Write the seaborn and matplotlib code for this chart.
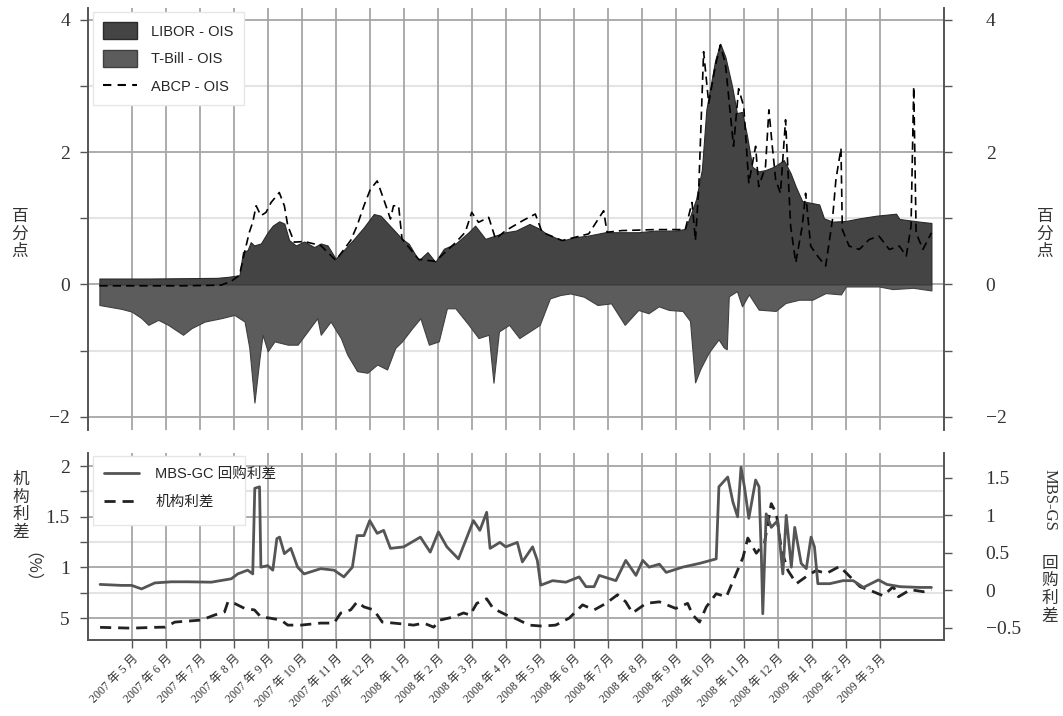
import matplotlib
matplotlib.use("Agg")
import matplotlib.pyplot as plt
import numpy as np
import seaborn as sns
from matplotlib.lines import Line2D
from matplotlib.patches import Patch, Rectangle
from matplotlib.ticker import MultipleLocator

sns.set_theme(style="ticks")
plt.rcParams["font.family"] = ["Liberation Serif", "Noto Sans CJK SC", "DejaVu Sans"]
plt.rcParams["axes.unicode_minus"] = True

# x is months after 2007-05-01 (tick 0 = 2007 年 5 月)
month_labels = [
    "2007 年 5 月", "2007 年 6 月", "2007 年 7 月", "2007 年 8 月", "2007 年 9 月",
    "2007 年 10 月", "2007 年 11 月", "2007 年 12 月", "2008 年 1 月", "2008 年 2 月",
    "2008 年 3 月", "2008 年 4 月", "2008 年 5 月", "2008 年 6 月", "2008 年 7 月",
    "2008 年 8 月", "2008 年 9 月", "2008 年 10 月", "2008 年 11 月", "2008 年 12 月",
    "2009 年 1 月", "2009 年 2 月", "2009 年 3 月",
]

libor_t = [-0.95, -0.3, 0.5, 1.5, 2.5, 2.83, 3.17, 3.27, 3.41, 3.5, 3.6, 3.8, 4.0, 4.15,
           4.34, 4.49, 4.63, 4.83, 5.07, 5.37, 5.56, 5.76, 6.0, 6.24, 6.54, 6.83, 7.12,
           7.32, 7.61, 7.95, 8.15, 8.44, 8.7, 8.93, 9.18, 9.52, 9.91, 10.1, 10.4, 10.7,
           11.0, 11.3, 11.7, 12.0, 12.2, 12.66, 13.05, 13.44, 13.93, 14.42, 14.9, 15.4,
           16.0, 16.28, 16.43, 16.6, 16.77, 16.9, 17.16, 17.31, 17.46, 17.66, 17.8,
           17.95, 18.1, 18.25, 18.44, 18.64, 18.89, 19.18, 19.38, 19.53, 19.72, 20.02,
           20.22, 20.36, 20.61, 21.0, 21.4, 21.9, 22.48, 22.58, 23.17, 23.52]
libor_v = [0.09, 0.09, 0.09, 0.095, 0.10, 0.115, 0.14, 0.49, 0.52, 0.64, 0.59, 0.62, 0.79,
           0.89, 0.955, 0.92, 0.67, 0.59, 0.65, 0.565, 0.62, 0.59, 0.39, 0.52, 0.69, 0.865,
           1.065, 1.04, 0.88, 0.69, 0.615, 0.365, 0.49, 0.34, 0.54, 0.615, 0.79, 0.89,
           0.69, 0.74, 0.79, 0.815, 0.915, 0.84, 0.765, 0.665, 0.715, 0.74, 0.79, 0.79,
           0.79, 0.815, 0.815, 0.84, 1.04, 1.29, 1.74, 2.64, 3.39, 3.64, 3.44, 2.99, 2.59,
           2.61, 2.24, 1.78, 1.71, 1.73, 1.78, 1.88, 1.68, 1.48, 1.26, 1.23, 1.21, 1.0,
           0.95, 0.96, 1.0, 1.04, 1.07, 0.99, 0.95, 0.93]

tbill_t = [-0.95, -0.29, 0.0, 0.29, 0.49, 0.78, 1.07, 1.51, 1.76, 2.15, 2.63, 3.02, 3.32,
           3.46, 3.61, 3.76, 3.85, 4.0, 4.2, 4.59, 4.88, 5.17, 5.46, 5.56, 5.85, 6.15,
           6.34, 6.63, 6.93, 7.22, 7.51, 7.75, 7.95, 8.25, 8.49, 8.74, 9.03, 9.27, 9.52,
           9.91, 10.2, 10.5, 10.64, 10.8, 11.1, 11.4, 11.7, 12.0, 12.3, 12.6, 12.9, 13.3,
           13.7, 14.1, 14.5, 14.9, 15.2, 15.5, 15.8, 16.2, 16.42, 16.57, 16.72, 16.97,
           17.26, 17.41, 17.5, 17.56, 17.8, 17.95, 18.15, 18.44, 18.94, 19.23, 19.63,
           20.02, 20.41, 20.86, 21.0, 21.4, 21.98, 22.38, 22.98, 23.52]
tbill_v = [-0.31, -0.37, -0.41, -0.51, -0.61, -0.535, -0.61, -0.76, -0.66, -0.56, -0.51,
           -0.46, -0.56, -0.96, -1.785, -1.11, -0.76, -1.01, -0.86, -0.91, -0.91, -0.71,
           -0.51, -0.76, -0.56, -0.81, -1.06, -1.31, -1.335, -1.21, -1.285, -0.96, -0.86,
           -0.66, -0.51, -0.91, -0.86, -0.36, -0.36, -0.61, -0.81, -0.76, -1.485, -0.71,
           -0.61, -0.81, -0.71, -0.61, -0.21, -0.16, -0.135, -0.185, -0.31, -0.285, -0.61,
           -0.385, -0.435, -0.33, -0.385, -0.40, -0.55, -1.48, -1.28, -1.03, -0.83, -0.95,
           -0.98, -0.18, -0.10, -0.33, -0.15, -0.38, -0.40, -0.28, -0.23, -0.23, -0.13,
           -0.15, -0.03, -0.03, -0.03, -0.07, -0.05, -0.09]

abcp_t = [-0.95, 0.5, 1.5, 2.63, 2.93, 3.17, 3.32, 3.46, 3.56, 3.66, 3.8, 3.95, 4.1, 4.34,
          4.49, 4.59, 4.78, 5.07, 5.56, 6.0, 6.44, 6.63, 6.83, 7.02, 7.22, 7.41, 7.61,
          7.7, 7.85, 7.95, 8.44, 8.93, 9.52, 9.81, 10.0, 10.2, 10.5, 10.7, 11.0, 11.5,
          11.87, 12.07, 12.66, 13.44, 13.88, 13.98, 14.42, 15.4, 16.28, 16.48, 16.58,
          16.68, 16.82, 16.97, 17.16, 17.31, 17.46, 17.7, 17.85, 18.0, 18.15, 18.35,
          18.44, 18.64, 18.74, 18.84, 18.94, 19.08, 19.23, 19.38, 19.53, 19.72, 19.82,
          19.97, 20.17, 20.41, 20.61, 20.71, 20.86, 20.9, 21.1, 21.4, 21.69, 21.98,
          22.28, 22.58, 22.78, 22.92, 23.0, 23.07, 23.27, 23.52]
abcp_v = [-0.02, -0.02, -0.02, -0.01, 0.05, 0.14, 0.49, 0.79, 0.94, 1.19, 1.04, 1.09, 1.24,
          1.39, 1.19, 0.89, 0.64, 0.65, 0.59, 0.365, 0.665, 0.89, 1.19, 1.44, 1.565, 1.29,
          0.99, 1.19, 1.19, 0.69, 0.38, 0.35, 0.63, 0.79, 1.09, 0.94, 1.015, 0.69, 0.815,
          0.965, 1.065, 0.79, 0.665, 0.765, 1.115, 0.79, 0.815, 0.83, 0.83, 1.24, 0.665,
          1.49, 3.52, 2.74, 3.29, 3.62, 3.34, 2.09, 2.96, 2.69, 1.53, 2.09, 1.48, 1.78,
          2.64, 2.09, 1.58, 1.38, 2.49, 0.88, 0.33, 0.88, 1.38, 0.58, 0.43, 0.28, 0.98,
          1.58, 2.06, 0.83, 0.58, 0.53, 0.68, 0.73, 0.53, 0.58, 0.43, 0.88, 2.99, 0.78,
          0.53, 0.78]

mbs_t = [-0.93, -0.29, 0.0, 0.29, 0.68, 1.17, 1.66, 2.34, 2.93, 3.12, 3.41, 3.56, 3.62,
         3.76, 3.8, 4.0, 4.15, 4.27, 4.35, 4.49, 4.68, 4.88, 5.07, 5.56, 5.95, 6.24, 6.49,
         6.63, 6.83, 7.0, 7.22, 7.41, 7.61, 8.0, 8.49, 8.78, 9.02, 9.27, 9.61, 10.05,
         10.24, 10.44, 10.54, 10.83, 11.0, 11.34, 11.49, 11.79, 11.93, 12.03, 12.38,
         12.77, 13.16, 13.36, 13.6, 13.75, 14.24, 14.53, 14.83, 15.03, 15.22, 15.52,
         15.72, 16.2, 16.7, 17.19, 17.27, 17.53, 17.68, 17.82, 17.92, 18.02, 18.15,
         18.35, 18.45, 18.52, 18.56, 18.66, 18.81, 19.0, 19.15, 19.25, 19.4, 19.5,
         19.69, 19.84, 19.98, 20.08, 20.18, 20.53, 20.92, 21.22, 21.52, 21.96, 22.21,
         22.6, 23.18, 23.52]
mbs_v = [0.08, 0.067, 0.067, 0.02, 0.10, 0.115, 0.115, 0.11, 0.155, 0.22, 0.27, 0.22, 1.36,
         1.38, 0.31, 0.33, 0.27, 0.69, 0.71, 0.49, 0.56, 0.31, 0.22, 0.29, 0.27, 0.18,
         0.31, 0.73, 0.73, 0.93, 0.76, 0.8, 0.56, 0.58, 0.71, 0.51, 0.78, 0.58, 0.42,
         0.93, 0.8, 1.04, 0.56, 0.64, 0.58, 0.64, 0.38, 0.58, 0.40, 0.07, 0.13, 0.11,
         0.18, 0.05, 0.05, 0.20, 0.13, 0.40, 0.20, 0.40, 0.31, 0.35, 0.24, 0.31, 0.36,
         0.42, 1.38, 1.51, 1.18, 0.98, 1.64, 1.38, 0.96, 1.47, 1.38, 0.44, -0.31, 1.02,
         0.84, 0.93, 0.22, 1.0, 0.31, 0.84, 0.36, 0.29, 0.71, 0.58, 0.09, 0.09, 0.13,
         0.13, 0.04, 0.14, 0.08, 0.05, 0.04, 0.04]

agency_t = [-0.93, 0.0, 0.68, 0.98, 1.27, 1.66, 2.05, 2.44, 2.73, 2.83, 3.02, 3.32, 3.61,
            3.8, 4.05, 4.39, 4.59, 4.98, 5.56, 5.95, 6.15, 6.44, 6.63, 6.83, 7.12, 7.37,
            7.71, 8.29, 8.59, 8.88, 9.07, 9.46, 9.76, 9.95, 10.15, 10.44, 10.63, 11.02,
            11.2, 11.69, 12.08, 12.47, 12.87, 13.26, 13.6, 13.95, 14.29, 14.53, 14.73,
            15.13, 15.52, 16.0, 16.35, 16.5, 16.7, 16.9, 17.19, 17.49, 17.78, 17.98,
            18.12, 18.37, 18.61, 18.81, 18.96, 19.11, 19.3, 19.55, 19.84, 20.13, 20.43,
            20.82, 21.12, 21.42, 21.81, 22.1, 22.4, 22.55, 22.9, 23.28, 23.52]
agency_v = [0.408, 0.40, 0.408, 0.41, 0.46, 0.47, 0.48, 0.53, 0.56, 0.66, 0.645, 0.595,
            0.58, 0.51, 0.50, 0.48, 0.43, 0.43, 0.45, 0.45, 0.55, 0.58, 0.66, 0.61, 0.58,
            0.46, 0.45, 0.43, 0.45, 0.41, 0.48, 0.51, 0.55, 0.53, 0.645, 0.69, 0.595, 0.53,
            0.51, 0.43, 0.42, 0.43, 0.50, 0.63, 0.58, 0.645, 0.73, 0.66, 0.55, 0.645, 0.66,
            0.595, 0.645, 0.53, 0.46, 0.61, 0.74, 0.71, 0.94, 1.10, 1.29, 1.14, 1.24, 1.63,
            1.53, 1.17, 0.97, 0.84, 0.91, 0.97, 0.94, 1.01, 0.91, 0.81, 0.76, 0.72, 0.81,
            0.71, 0.78, 0.76, 0.78]

libor_c, tbill_c, edge_c, line_c = "#444444", "#5c5c5c", "#2a2a2a", "#555555"
major_grid, minor_grid, spine_c = "#a6a6a6", "#e4e4e4", "#555555"
cjk = ["Noto Sans CJK SC", "DejaVu Sans"]
sans = ["Liberation Sans", "Noto Sans CJK SC", "DejaVu Sans"]
xlim = (-1.285, 23.89)
ticks = np.arange(len(month_labels))


def style_axis(ax, sides):
    for side in ["top", "bottom", "left", "right"]:
        ax.spines[side].set_visible(side in sides)
        ax.spines[side].set_color(spine_c)
        ax.spines[side].set_linewidth(1.2)
    ax.tick_params(which="both", direction="out", length=6, width=1, color=spine_c,
                   labelsize=14, labelcolor="#333333")


def hgrid(ax, majors, minors):
    for v in minors:
        ax.axhline(v, color=minor_grid, lw=1.5, zorder=0.5)
    for v in majors:
        ax.axhline(v, color=major_grid, lw=1.3, zorder=0.6)


def vgrid(ax):
    for t in ticks:
        ax.axvline(t, color=major_grid, lw=1.3, zorder=0.6)


fig = plt.figure(figsize=(10.63, 7.16), dpi=100)
ax_top = fig.add_axes([88 / 1063, 1 - 430 / 716, 856 / 1063, 422 / 716])
ax_bot = fig.add_axes([88 / 1063, 1 - 640 / 716, 856 / 1063, 187 / 716])

# top panel: spreads vs OIS
ax_top.fill_between(libor_t, 0, libor_v, facecolor=libor_c, edgecolor=edge_c, lw=0.8, zorder=2)
ax_top.fill_between(tbill_t, 0, tbill_v, facecolor=tbill_c, edgecolor="#404040", lw=0.8, zorder=2)
sns.lineplot(x=abcp_t, y=abcp_v, ax=ax_top, color="black", lw=1.2,
             linestyle=(0, (5, 3)), estimator=None, legend=False, zorder=3)
ax_top.set_xlim(*xlim)
ax_top.set_ylim(-2.2, 4.18)
ax_top.set_xticks(ticks)
ax_top.tick_params(axis="x", bottom=False, labelbottom=False)
hgrid(ax_top, [-2, 0, 2, 4], [-1, 1, 3])
vgrid(ax_top)
ax_top.yaxis.set_major_locator(MultipleLocator(2))
ax_top.yaxis.set_minor_locator(MultipleLocator(1))
style_axis(ax_top, ["left", "right"])
ax_top.tick_params(axis="y", which="both", pad=7)
ax_top.set_xlabel("")
ax_top.set_ylabel("")

ax_top_r = ax_top.twinx()
ax_top_r.set_ylim(ax_top.get_ylim())
ax_top_r.yaxis.set_major_locator(MultipleLocator(2))
ax_top_r.yaxis.set_minor_locator(MultipleLocator(1))
style_axis(ax_top_r, ["left", "right"])
ax_top_r.tick_params(axis="y", which="both", pad=24)
for lab in ax_top_r.get_yticklabels():
    lab.set_horizontalalignment("left")

top_handles = [
    Patch(facecolor=libor_c, edgecolor=edge_c, lw=1),
    Patch(facecolor=tbill_c, edgecolor="#404040", lw=1),
    Line2D([], [], color="black", lw=1.5, linestyle=(0, (4, 3))),
]
leg = ax_top.legend(top_handles, ["LIBOR - OIS", "T-Bill - OIS", "ABCP - OIS"],
                    loc="upper left", bbox_to_anchor=(0.006, 0.99), borderaxespad=0,
                    prop={"family": sans, "size": 10.5}, handlelength=2.3,
                    handleheight=1.4, labelspacing=0.75, handletextpad=1.0,
                    fancybox=False, framealpha=1, edgecolor="#e6e6e6", borderpad=0.7)
leg.set_zorder(5)

# bottom panel: agency spread (left) and MBS-GC repo spread (right)
ax_bot_r = ax_bot.twinx()
sns.lineplot(x=agency_t, y=agency_v, ax=ax_bot, color="#222222", lw=2.0,
             linestyle=(0, (4, 2.5)), estimator=None, legend=False, zorder=3)
sns.lineplot(x=mbs_t, y=mbs_v, ax=ax_bot_r, color=line_c, lw=2.0,
             estimator=None, legend=False, zorder=3)
ax_bot.set_xlim(*xlim)
ax_bot.set_ylim(0.283, 2.13)
ax_bot_r.set_ylim(-0.66, 1.83)
hgrid(ax_bot, [0.5, 1.0, 1.5, 2.0], [0.75, 1.25, 1.75])
vgrid(ax_bot)
ax_bot.yaxis.set_major_locator(MultipleLocator(0.5))
ax_bot.yaxis.set_minor_locator(MultipleLocator(0.25))
ax_bot.set_yticks([0.5, 1.0, 1.5, 2.0], ["5", "1", "1.5", "2"])
ax_bot_r.set_yticks([-0.5, 0, 0.5, 1.0, 1.5], ["\u22120.5", "0", "0.5", "1", "1.5"])
ax_bot.set_xticks(ticks)
ax_bot.set_xticklabels(month_labels, rotation=45, ha="right", rotation_mode="anchor",
                       fontsize=8.6)
style_axis(ax_bot, ["left", "bottom", "right"])
style_axis(ax_bot_r, ["left", "bottom", "right"])
ax_bot.tick_params(axis="y", which="both", pad=7)
ax_bot.tick_params(axis="x", labelsize=8.6, pad=3)
ax_bot_r.tick_params(axis="y", which="both", pad=24)
for lab in ax_bot_r.get_yticklabels():
    lab.set_horizontalalignment("left")
for a in (ax_bot, ax_bot_r):
    a.set_xlabel("")
    a.set_ylabel("")

# legend box sits under the repo line (the long label spills past it, as in the source)
box_x0 = (93 - 88) / 856
box_y0 = (640 - 525) / 187
ax_bot_r.add_patch(Rectangle((box_x0, box_y0), (245 - 93) / 856, (525 - 456) / 187,
                             transform=ax_bot_r.transAxes, facecolor="white",
                             edgecolor="#e6e6e6", lw=1, zorder=2.5))
bot_handles = [
    Line2D([], [], color=line_c, lw=2.0),
    Line2D([], [], color="#222222", lw=2.0, linestyle=(0, (4, 2.5))),
]
leg2 = ax_bot_r.legend(bot_handles, ["MBS-GC 回购利差", "机构利差"], loc="upper left",
                       bbox_to_anchor=(0.006, 0.984), borderaxespad=0,
                       prop={"family": sans, "size": 10.5}, handlelength=2.4,
                       labelspacing=0.95, handletextpad=1.1, frameon=False,
                       borderpad=0.75)
leg2.set_zorder(5)

# vertical axis titles
fig.text(20 / 1063, 1 - 234 / 716, "百\n分\n点", ha="center", va="center",
         fontsize=12, family=cjk, linespacing=1.05, color="#333333")
fig.text(1045 / 1063, 1 - 234 / 716, "百\n分\n点", ha="center", va="center",
         fontsize=12, family=cjk, linespacing=1.05, color="#333333")
fig.text(21 / 1063, 1 - 506 / 716, "机\n构\n利\n差", ha="center", va="center",
         fontsize=12, family=cjk, linespacing=1.05, color="#333333")
fig.text(22 / 1063, 1 - 576 / 716, "（%）", ha="center", va="center", rotation=270,
         fontsize=12, family=cjk, color="#333333")
fig.text(1050 / 1063, 1 - 500 / 716, "MBS-GS", ha="center", va="center", rotation=270,
         fontsize=12, family=["Liberation Serif", "DejaVu Sans"], color="#333333")
fig.text(1050 / 1063, 1 - 590 / 716, "回\n购\n利\n差", ha="center", va="center",
         fontsize=12, family=cjk, linespacing=1.05, color="#333333")

fig.savefig("out.png", dpi=100)
